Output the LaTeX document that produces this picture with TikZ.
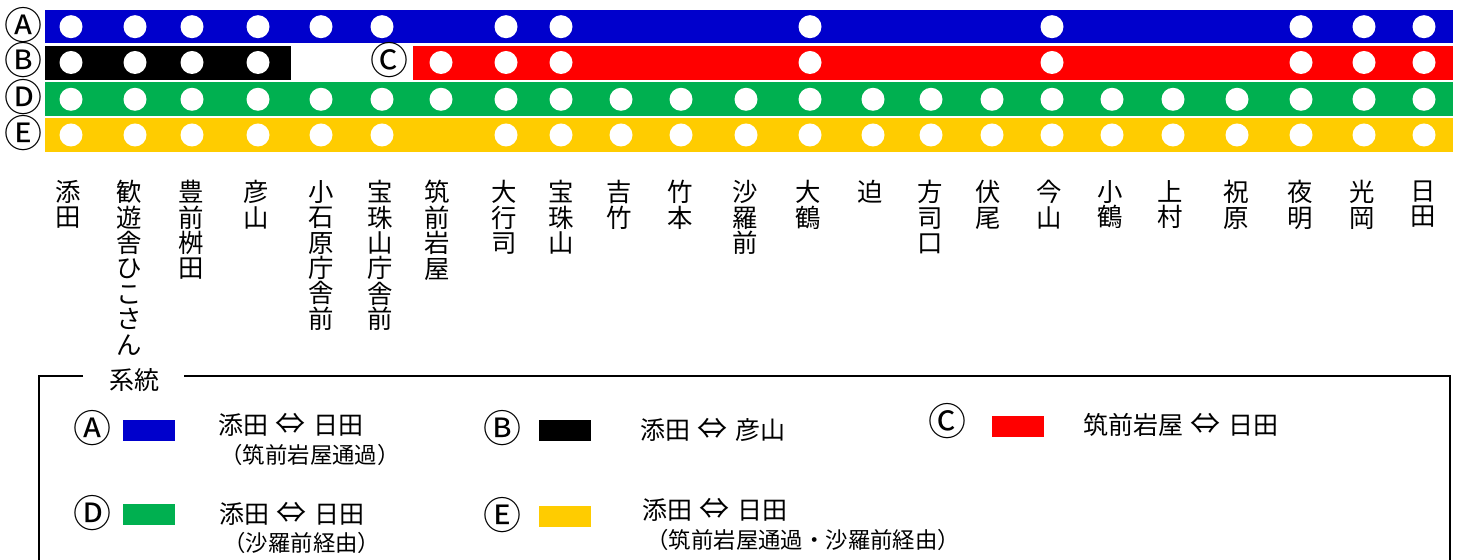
\documentclass[tikz,border=0pt]{standalone}
\usepackage{fontspec}
\setmainfont{Noto Sans CJK JP}
\usetikzlibrary{positioning}
\definecolor{lineA}{HTML}{0000CC}
\definecolor{lineC}{HTML}{FF0000}
\definecolor{lineD}{HTML}{00B050}
\definecolor{lineE}{HTML}{FFCC00}
\newcommand{\both}{\hspace{0.3em}{\fontsize{15}{15}\selectfont ⇔}\hspace{0.3em}}

\begin{document}
\begin{tikzpicture}[x=0.5pt,y=-0.5pt,
  stopdot/.style={circle,fill=white,inner sep=0pt,minimum size=11.5pt},
  rowkey/.style={inner sep=0pt,text height=13pt,text depth=0.3pt,font=\fontsize{19}{19}\selectfont},
  stname/.style={anchor=north,align=center,inner sep=0pt,font=\fontsize{12.7}{12.7}\selectfont},
  swatch/.style={inner sep=0pt,minimum width=26pt,minimum height=10.5pt},
  keytext/.style={anchor=west,inner sep=0pt,font=\fontsize{12.5}{12.5}\selectfont},
  subtext/.style={anchor=west,inner sep=0pt,font=\fontsize{11.2}{11.2}\selectfont}]

  \useasboundingbox (0,0) rectangle (1464,560);

  % The bars
  \fill[lineA] (45,10) rectangle (1453,43);
  \fill[black] (45,46) rectangle (291,80);
  \fill[lineC] (413,46) rectangle (1453,80);
  \fill[lineD] (45,82) rectangle (1453,116);
  \fill[lineE] (45,118) rectangle (1453,152);

  \node [rowkey] at (23,27) (kA) {Ⓐ};
  \node [rowkey] at (23,62) (kB) {Ⓑ};
  \node [rowkey] at (389,62) (kC) {Ⓒ};
  \node [rowkey] at (23,99) (kD) {Ⓓ};
  \node [rowkey] at (23,135) (kE) {Ⓔ};

  % Stops
  \foreach \x [count=\i] in {71,135,192,258,321,382,506,561,810,1052,1301,1364,1424}
    \node [stopdot] at (\x,26.7) (dA\i) {};
  \foreach \x [count=\i] in {71,135,192,258,441,506,561,810,1052,1301,1364,1424}
    \node [stopdot] at (\x,62.5) (dB\i) {};
  \foreach \x [count=\i] in {71,135,192,258,321,382,441,506,561,621,681,746,810,873,931,992,1052,1112,1173,1237,1301,1364,1424}
    \node [stopdot] at (\x,99.3) (dD\i) {};
  \foreach \x [count=\i] in {71,135,192,258,321,382,506,561,621,681,746,810,873,931,992,1052,1112,1173,1237,1301,1364,1424}
    \node [stopdot] at (\x,135) (dE\i) {};

  % Station names
  \node [stname] at (68,180) (s1) {添\\田};
  \node [stname] at (129,180) (s2) {歓\\遊\\舎\\ひ\\こ\\さ\\ん};
  \node [stname] at (191,180) (s3) {豊\\前\\桝\\田};
  \node [stname] at (256,180) (s4) {彦\\山};
  \node [stname] at (321,180) (s5) {小\\石\\原\\庁\\舎\\前};
  \node [stname] at (380,180) (s6) {宝\\珠\\山\\庁\\舎\\前};
  \node [stname] at (437,180) (s7) {筑\\前\\岩\\屋};
  \node [stname] at (504,180) (s8) {大\\行\\司};
  \node [stname] at (561,180) (s9) {宝\\珠\\山};
  \node [stname] at (619,180) (s10) {吉\\竹};
  \node [stname] at (680,180) (s11) {竹\\本};
  \node [stname] at (745,180) (s12) {沙\\羅\\前};
  \node [stname] at (808,180) (s13) {大\\鶴};
  \node [stname] at (870,180) (s14) {迫};
  \node [stname] at (930,180) (s15) {方\\司\\口};
  \node [stname] at (988,180) (s16) {伏\\尾};
  \node [stname] at (1049,180) (s17) {今\\山};
  \node [stname] at (1110,180) (s18) {小\\鶴};
  \node [stname] at (1170,180) (s19) {上\\村};
  \node [stname] at (1236,180) (s20) {祝\\原};
  \node [stname] at (1300,180) (s21) {夜\\明};
  \node [stname] at (1362,180) (s22) {光\\岡};
  \node [stname] at (1423,180) (s23) {日\\田};

  % Legend
  \node [inner sep=0pt,font=\fontsize{12.5}{12.5}\selectfont] at (134,380) (title) {系統};
  \draw [line width=1pt] (83,376) -- (39,376) -- (39,560);
  \draw [line width=1pt] (184,376) -- (1450,376) -- (1450,560);

  \node [rowkey] at (92,430) (lA) {Ⓐ};
  \node [swatch,fill=lineA] at (148.5,430.5) (wA) {};
  \node [keytext] at (218,425) (tA) {添田\both 日田};
  \node [subtext] at (220,455) (uA) {（筑前岩屋通過）};

  \node [rowkey] at (502,430) (lB) {Ⓑ};
  \node [swatch,fill=black] at (565,430.5) (wB) {};
  \node [keytext] at (640,430) (tB) {添田\both 彦山};

  \node [rowkey] at (947,423) (lC) {Ⓒ};
  \node [swatch,fill=lineC] at (1018,426.5) (wC) {};
  \node [keytext] at (1083,425) (tC) {筑前岩屋\both 日田};

  \node [rowkey] at (92,515) (lD) {Ⓓ};
  \node [swatch,fill=lineD] at (149,514.5) (wD) {};
  \node [keytext] at (219,514) (tD) {添田\both 日田};
  \node [subtext] at (223,543) (uD) {（沙羅前経由）};

  \node [rowkey] at (502,517) (lE) {Ⓔ};
  \node [swatch,fill=lineE] at (565,516.5) (wE) {};
  \node [keytext] at (642,510) (tE) {添田\both 日田};
  \node [subtext] at (646,540) (uE) {（筑前岩屋通過・沙羅前経由）};

\end{tikzpicture}
\end{document}
